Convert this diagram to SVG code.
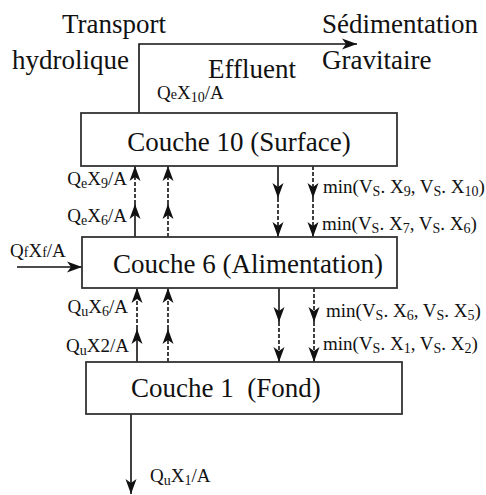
<svg xmlns="http://www.w3.org/2000/svg" width="486" height="495" viewBox="0 0 486 495" font-family="'Liberation Serif', 'DejaVu Serif', serif">
<style>
text{font-family:'Liberation Serif','DejaVu Serif',serif;fill:#111}
.big{font-size:27px}
.box{font-size:27px}
.lab{font-size:19px}
.sub{font-size:14px}
rect{fill:#fff;stroke:#333;stroke-width:1.8}
.ln{stroke:#111;stroke-width:1.6;fill:none}
.ds{stroke:#111;stroke-width:1.6;fill:none;stroke-dasharray:4,2}
</style>
<defs>
<marker id="ah" markerUnits="userSpaceOnUse" markerWidth="18" markerHeight="12" refX="16" refY="6" orient="auto" viewBox="0 0 18 12">
<path d="M16,6 L1,0.5 L5,6 L1,11.5 Z" fill="#111"/>
</marker>
</defs>
<g id="labels-top">
<text class="big" x="62" y="33">Transport</text>
<text class="big" x="12" y="69">hydrolique</text>
<text class="big" x="322" y="33">Sédimentation</text>
<text class="big" x="322" y="69">Gravitaire</text>
<text class="big" x="208" y="78">Effluent</text>
</g>
<g id="connectors">
<polyline class="ln" points="139,113 139,44 357,44" marker-end="url(#ah)"/>
<line class="ln" x1="135" y1="237" x2="135" y2="204" marker-end="url(#ah)"/>
<line class="ds" x1="135" y1="204" x2="135" y2="166" marker-end="url(#ah)"/>
<line class="ds" x1="168" y1="237" x2="168" y2="204" marker-end="url(#ah)"/>
<line class="ds" x1="168" y1="204" x2="168" y2="166" marker-end="url(#ah)"/>
<line class="ln" x1="278" y1="166" x2="278" y2="198" marker-end="url(#ah)"/>
<line class="ds" x1="278" y1="198" x2="278" y2="237" marker-end="url(#ah)"/>
<line class="ds" x1="313" y1="166" x2="313" y2="198" marker-end="url(#ah)"/>
<line class="ds" x1="313" y1="198" x2="313" y2="237" marker-end="url(#ah)"/>
<line class="ln" x1="137" y1="362" x2="137" y2="329" marker-end="url(#ah)"/>
<line class="ds" x1="137" y1="329" x2="137" y2="288" marker-end="url(#ah)"/>
<line class="ds" x1="168" y1="362" x2="168" y2="329" marker-end="url(#ah)"/>
<line class="ds" x1="168" y1="329" x2="168" y2="288" marker-end="url(#ah)"/>
<line class="ln" x1="279" y1="288" x2="279" y2="322" marker-end="url(#ah)"/>
<line class="ds" x1="279" y1="322" x2="279" y2="362" marker-end="url(#ah)"/>
<line class="ds" x1="314" y1="288" x2="314" y2="322" marker-end="url(#ah)"/>
<line class="ds" x1="314" y1="322" x2="314" y2="362" marker-end="url(#ah)"/>
<line class="ln" x1="17" y1="267" x2="82" y2="267" marker-end="url(#ah)"/>
<line class="ln" x1="131" y1="414" x2="131" y2="494" marker-end="url(#ah)"/>
</g>
<g id="couche10">
<rect x="81" y="113" width="316" height="53"/>
<text class="box" x="239" y="151" text-anchor="middle">Couche 10 (Surface)</text>
</g>
<g id="couche6">
<rect x="82" y="237" width="315" height="51"/>
<text class="box" x="113" y="273">Couche 6 (Alimentation)</text>
</g>
<g id="couche1">
<rect x="86" y="362" width="316" height="52"/>
<text class="box" x="131" y="397" xml:space="preserve">Couche 1  (Fond)</text>
</g>
<g id="flow-labels">
<text class="lab" x="157" y="99">Q<tspan class="sub">e</tspan>X<tspan class="sub" dy="3">10</tspan><tspan dy="-3">/A</tspan></text>
<text class="lab" x="127" y="185" text-anchor="end">Q<tspan class="sub" dy="3">e</tspan><tspan dy="-3">X</tspan><tspan class="sub" dy="3">9</tspan><tspan dy="-3">/A</tspan></text>
<text class="lab" x="127" y="222" text-anchor="end">Q<tspan class="sub" dy="3">e</tspan><tspan dy="-3">X</tspan><tspan class="sub" dy="3">6</tspan><tspan dy="-3">/A</tspan></text>
<text class="lab" x="10" y="257">Q<tspan class="sub">f</tspan>X<tspan class="sub">f</tspan>/A</text>
<text class="lab" x="128" y="313" text-anchor="end">Q<tspan class="sub" dy="3">u</tspan><tspan dy="-3">X</tspan><tspan class="sub" dy="3">6</tspan><tspan dy="-3">/A</tspan></text>
<text class="lab" x="129" y="352" text-anchor="end">Q<tspan class="sub" dy="3">u</tspan><tspan dy="-3">X2/A</tspan></text>
<text class="lab" x="150" y="482">Q<tspan class="sub" dy="3">u</tspan><tspan dy="-3">X</tspan><tspan class="sub" dy="3">1</tspan><tspan dy="-3">/A</tspan></text>
<text class="lab" x="323" y="193">min(V<tspan class="sub" dy="3">S</tspan><tspan dy="-3">. X</tspan><tspan class="sub" dy="3">9</tspan><tspan dy="-3">, V</tspan><tspan class="sub" dy="3">S</tspan><tspan dy="-3">. X</tspan><tspan class="sub" dy="3">10</tspan><tspan dy="-3">)</tspan></text>
<text class="lab" x="322" y="230">min(V<tspan class="sub" dy="3">S</tspan><tspan dy="-3">. X</tspan><tspan class="sub" dy="3">7</tspan><tspan dy="-3">, V</tspan><tspan class="sub" dy="3">S</tspan><tspan dy="-3">. X</tspan><tspan class="sub" dy="3">6</tspan><tspan dy="-3">)</tspan></text>
<text class="lab" x="326" y="317">min(V<tspan class="sub" dy="3">S</tspan><tspan dy="-3">. X</tspan><tspan class="sub" dy="3">6</tspan><tspan dy="-3">, V</tspan><tspan class="sub" dy="3">S</tspan><tspan dy="-3">. X</tspan><tspan class="sub" dy="3">5</tspan><tspan dy="-3">)</tspan></text>
<text class="lab" x="323" y="350">min(V<tspan class="sub" dy="3">S</tspan><tspan dy="-3">. X</tspan><tspan class="sub" dy="3">1</tspan><tspan dy="-3">, V</tspan><tspan class="sub" dy="3">S</tspan><tspan dy="-3">. X</tspan><tspan class="sub" dy="3">2</tspan><tspan dy="-3">)</tspan></text>
</g>
</svg>
